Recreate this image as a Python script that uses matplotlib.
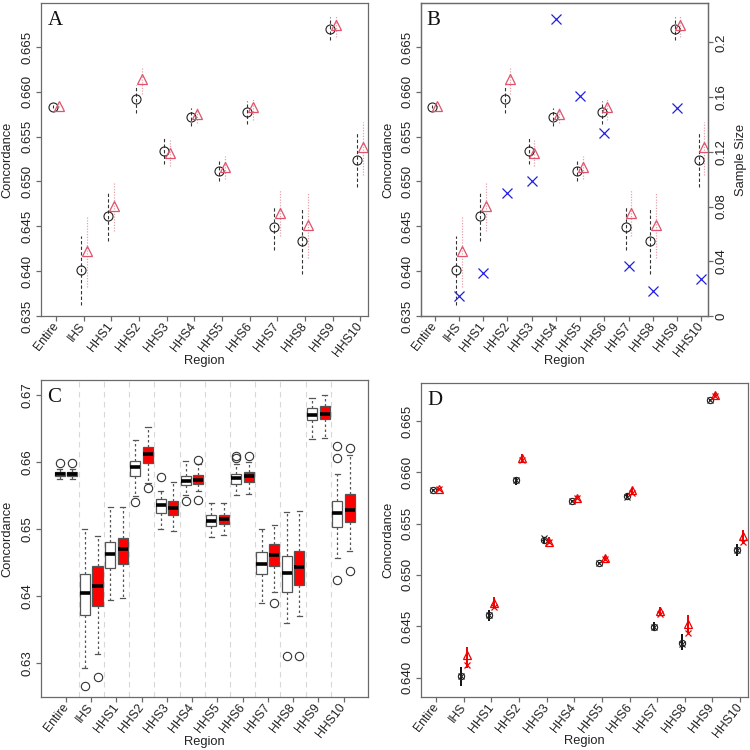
import numpy as np
import matplotlib
matplotlib.use("Agg")
import matplotlib.pyplot as plt

plt.rcParams['font.family'] = ['Liberation Sans', 'DejaVu Sans']

regions = ['Entire', 'IHS', 'HHS1', 'HHS2', 'HHS3', 'HHS4', 'HHS5', 'HHS6',
           'HHS7', 'HHS8', 'HHS9', 'HHS10']

# Panel A/B estimates (black circles, dashed intervals)
est1 = [0.6583, 0.6401, 0.6461, 0.6592, 0.6534, 0.6572, 0.6512, 0.6577, 0.6449, 0.6434, 0.6670, 0.6524]
est1_lo = [0.6582, 0.6362, 0.6434, 0.6576, 0.6519, 0.6562, 0.6500, 0.6564, 0.6424, 0.6397, 0.6658, 0.6494]
est1_hi = [0.6585, 0.6439, 0.6488, 0.6608, 0.6549, 0.6582, 0.6524, 0.6590, 0.6473, 0.6470, 0.6683, 0.6554]
# red triangles, dotted intervals
est2 = [0.6584, 0.6422, 0.6473, 0.6614, 0.6532, 0.6575, 0.6516, 0.6583, 0.6465, 0.6452, 0.6675, 0.6538]
est2_lo = [0.6583, 0.6382, 0.6445, 0.6598, 0.6517, 0.6565, 0.6503, 0.6568, 0.6439, 0.6415, 0.6661, 0.6507]
est2_hi = [0.6586, 0.6461, 0.6499, 0.6628, 0.6547, 0.6583, 0.6528, 0.6592, 0.6490, 0.6488, 0.6685, 0.6566]

# Panel B sample size (right axis)
sample_size = [np.nan, 0.0149, 0.0317, 0.0900, 0.0985, 0.2171, 0.1605, 0.1337, 0.0366, 0.0185, 0.1522, 0.0273]

# Panel C box statistics: whisker low, Q1, median, Q3, whisker high, outliers
white_box = [
    (0.65755, 0.6580, 0.6583, 0.6586, 0.6590, [0.6599]),
    (0.6294, 0.6372, 0.6405, 0.6434, 0.6501, [0.6267]),
    (0.6394, 0.6443, 0.6464, 0.6481, 0.6534, []),
    (0.6550, 0.6580, 0.6593, 0.6602, 0.6633, [0.6541]),
    (0.6500, 0.6524, 0.6536, 0.6546, 0.6558, [0.6578]),
    (0.6551, 0.6567, 0.6572, 0.6580, 0.6602, [0.6542]),
    (0.6489, 0.6505, 0.6513, 0.6521, 0.6540, []),
    (0.6551, 0.6568, 0.6577, 0.6583, 0.6597, [0.6607, 0.6609]),
    (0.6390, 0.6433, 0.6449, 0.6466, 0.6500, []),
    (0.6360, 0.6406, 0.6435, 0.6461, 0.6526, [0.6311]),
    (0.6635, 0.6663, 0.6671, 0.6681, 0.6696, []),
    (0.6457, 0.6503, 0.6524, 0.6543, 0.6583, [0.6424, 0.6607, 0.6624]),
]
red_box = [
    (0.65755, 0.6580, 0.6583, 0.6586, 0.6590, [0.6599]),
    (0.6314, 0.6386, 0.6415, 0.6446, 0.6490, [0.6280]),
    (0.6398, 0.6448, 0.6471, 0.6487, 0.6534, []),
    (0.6569, 0.6599, 0.6613, 0.6623, 0.6653, [0.6562]),
    (0.6498, 0.6521, 0.6532, 0.6543, 0.6571, []),
    (0.6558, 0.6568, 0.6574, 0.6581, 0.6597, [0.6544, 0.6603]),
    (0.6492, 0.6508, 0.6515, 0.6522, 0.6540, []),
    (0.6553, 0.6571, 0.6580, 0.6586, 0.6600, [0.6610]),
    (0.6407, 0.6446, 0.6462, 0.6478, 0.6507, [0.6390]),
    (0.6371, 0.6417, 0.6444, 0.6468, 0.6527, [0.6311]),
    (0.6637, 0.6665, 0.6673, 0.6684, 0.6701, []),
    (0.6468, 0.6511, 0.6529, 0.6553, 0.6611, [0.6438, 0.6622]),
]

# Panel D
d1_x = [0.6583, 0.6401, 0.6461, 0.6592, 0.6536, 0.6572, 0.6512, 0.6576, 0.6449, 0.6433, 0.6670, 0.6524]
d1_lo = [0.6582, 0.6392, 0.6455, 0.6588, 0.6530, 0.6571, 0.6511, 0.6575, 0.6445, 0.6427, 0.6669, 0.6518]
d1_hi = [0.6584, 0.6410, 0.6466, 0.6595, 0.6537, 0.6573, 0.6513, 0.6580, 0.6454, 0.6442, 0.6671, 0.6530]
d2_x = [0.6584, 0.6412, 0.6469, 0.6612, 0.6532, 0.6575, 0.6515, 0.6580, 0.6462, 0.6443, 0.6674, 0.6532]
d2_lo = [0.6583, 0.6409, 0.6468, 0.6609, 0.6530, 0.6574, 0.6514, 0.6578, 0.6460, 0.6443, 0.6673, 0.6530]
d2_hi = [0.6585, 0.6430, 0.6478, 0.6618, 0.6537, 0.6577, 0.6518, 0.6585, 0.6469, 0.6461, 0.6677, 0.6544]

SPINE = '#6a6a6a'
TXT = '#222222'
RED_A = '#DF536B'

fig = plt.figure(figsize=(7.5, 7.5), dpi=100)
W = 750.0

def add_ax(l, r, t, b):
    return fig.add_axes([l / W, 1 - b / W, (r - l) / W, (b - t) / W])

axA = add_ax(41, 368, 3, 316)
axB = add_ax(421, 708, 3, 316)
axC = add_ax(41, 368, 380, 697)
axD = add_ax(421, 748, 383, 697)

x = np.arange(len(regions))

def style(ax, letter, yticks, fmt, ylabel_x, xlabel_y):
    for s in ax.spines.values():
        s.set_color(SPINE)
        s.set_linewidth(0.9)
    ax.set_xticks(x)
    ax.set_xticklabels(regions, rotation=52, ha='right', va='center',
                       rotation_mode='anchor', fontsize=8.8, color=TXT)
    ax.set_yticks(yticks)
    ax.set_yticklabels([fmt.format(v) for v in yticks], rotation=90,
                       va='center', fontsize=9.5, color=TXT)
    ax.tick_params(axis='both', direction='out', length=3.5, width=0.9,
                   color=SPINE)
    ax.tick_params(axis='x', pad=2.5)
    ax.tick_params(axis='y', pad=2)
    ax.set_ylabel('Concordance', fontsize=9.3, color=TXT)
    ax.yaxis.set_label_coords(ylabel_x, 0.5)
    ax.set_xlabel('Region', fontsize=9.3, color=TXT)
    ax.xaxis.label.set_va('center')
    ax.xaxis.set_label_coords(0.5, xlabel_y)
    ax.text(0.02, 0.975, letter, transform=ax.transAxes, ha='left', va='top',
            fontsize=15, family='Liberation Serif', color='#111111')

yt_ab = [0.635, 0.640, 0.645, 0.650, 0.655, 0.660, 0.665]

def panel_ab(ax, off, xlim):
    xs1 = x - off
    xs2 = x + off
    ax.vlines(xs1, est1_lo, est1_hi, colors='#333333', linestyles=(0, (3, 2)), linewidth=0.8)
    ax.vlines(xs2, est2_lo, est2_hi, colors='#E8A0A8', linestyles=(0, (1, 1.2)), linewidth=0.9)
    ax.plot(xs1, est1, 'o', mfc='none', mec='#222222', ms=6.5, mew=0.8)
    ax.plot(xs2, est2, '^', mfc='none', mec=RED_A, ms=7.5, mew=0.9)
    ax.set_xlim(*xlim)
    ax.set_ylim(0.635, 0.6699)

panel_ab(axA, 0.11, (-0.54, 11.28))
style(axA, 'A', yt_ab, '{:.3f}', -0.083, -0.143)

panel_ab(axB, 0.11, (-0.56, 11.27))
style(axB, 'B', yt_ab, '{:.3f}', -0.092, -0.143)
axB2 = axB.twinx()
axB2.plot(x, sample_size, 'x', color='#2020E0', ms=6.5, mew=0.9)
axB2.set_ylim(0, 0.2288)
rt = [0, 0.04, 0.08, 0.12, 0.16, 0.2]
axB2.set_yticks(rt)
axB2.set_yticklabels(['0', '0.04', '0.08', '0.12', '0.16', '0.2'], rotation=90,
                     va='center', fontsize=9.5, color=TXT)
axB2.tick_params(axis='y', direction='out', length=3.5, width=0.9, color=SPINE, pad=2)
for s in axB2.spines.values():
    s.set_color(SPINE)
    s.set_linewidth(0.9)
axB2.set_ylabel('Sample Size', fontsize=9.3, color=TXT, rotation=90)
axB2.yaxis.set_label_coords(1.095, 0.5)

# Panel C
def mkstats(b):
    return dict(whislo=b[0], q1=b[1], med=b[2], q3=b[3], whishi=b[4], fliers=b[5])

for boxes, offs, fc in ((white_box, -0.25, 'white'), (red_box, 0.25, '#FF0000')):
    axC.bxp([mkstats(b) for b in boxes], positions=x + offs, widths=0.4,
            capwidths=0.2, patch_artist=True, manage_ticks=False,
            boxprops=dict(facecolor=fc, edgecolor='#555555', linewidth=0.9),
            medianprops=dict(color='black', linewidth=2.6),
            whiskerprops=dict(color='#555555', linestyle=(0, (2, 2)), linewidth=0.9),
            capprops=dict(color='#555555', linewidth=0.9),
            flierprops=dict(marker='o', mfc='none', mec='#333333', ms=6, mew=0.8))
for xv in x[:-1] + 0.5:
    axC.axvline(xv, color='#d8d8d8', linestyle=(0, (5, 4)), linewidth=0.8, zorder=0)
axC.set_xlim(-0.99, 11.97)
axC.set_ylim(0.6250, 0.6723)
style(axC, 'C', [0.63, 0.64, 0.65, 0.66, 0.67], '{:.2f}', -0.083, -0.141)

# Panel D
xd1 = x - 0.1
xd2 = x + 0.1
axD.vlines(xd1, d1_lo, d1_hi, colors='#111111', linewidth=1.4)
axD.vlines(xd2, d2_lo, d2_hi, colors='#EE0000', linewidth=1.4)
axD.plot(xd1, est1, 'o', mfc='none', mec='#222222', ms=4.5, mew=0.8)
axD.plot(xd1, d1_x, 'x', color='#222222', ms=4.5, mew=0.8)
axD.plot(xd2, est2, '^', mfc='none', mec='#EE0000', ms=5.5, mew=0.9)
axD.plot(xd2, d2_x, 'x', color='#EE0000', ms=4.5, mew=0.9)
axD.set_xlim(-0.55, 11.29)
axD.set_ylim(0.6381, 0.6687)
style(axD, 'D', [0.640, 0.645, 0.650, 0.655, 0.660, 0.665], '{:.3f}', -0.081, -0.141)

fig.savefig('out.png', dpi=100)
